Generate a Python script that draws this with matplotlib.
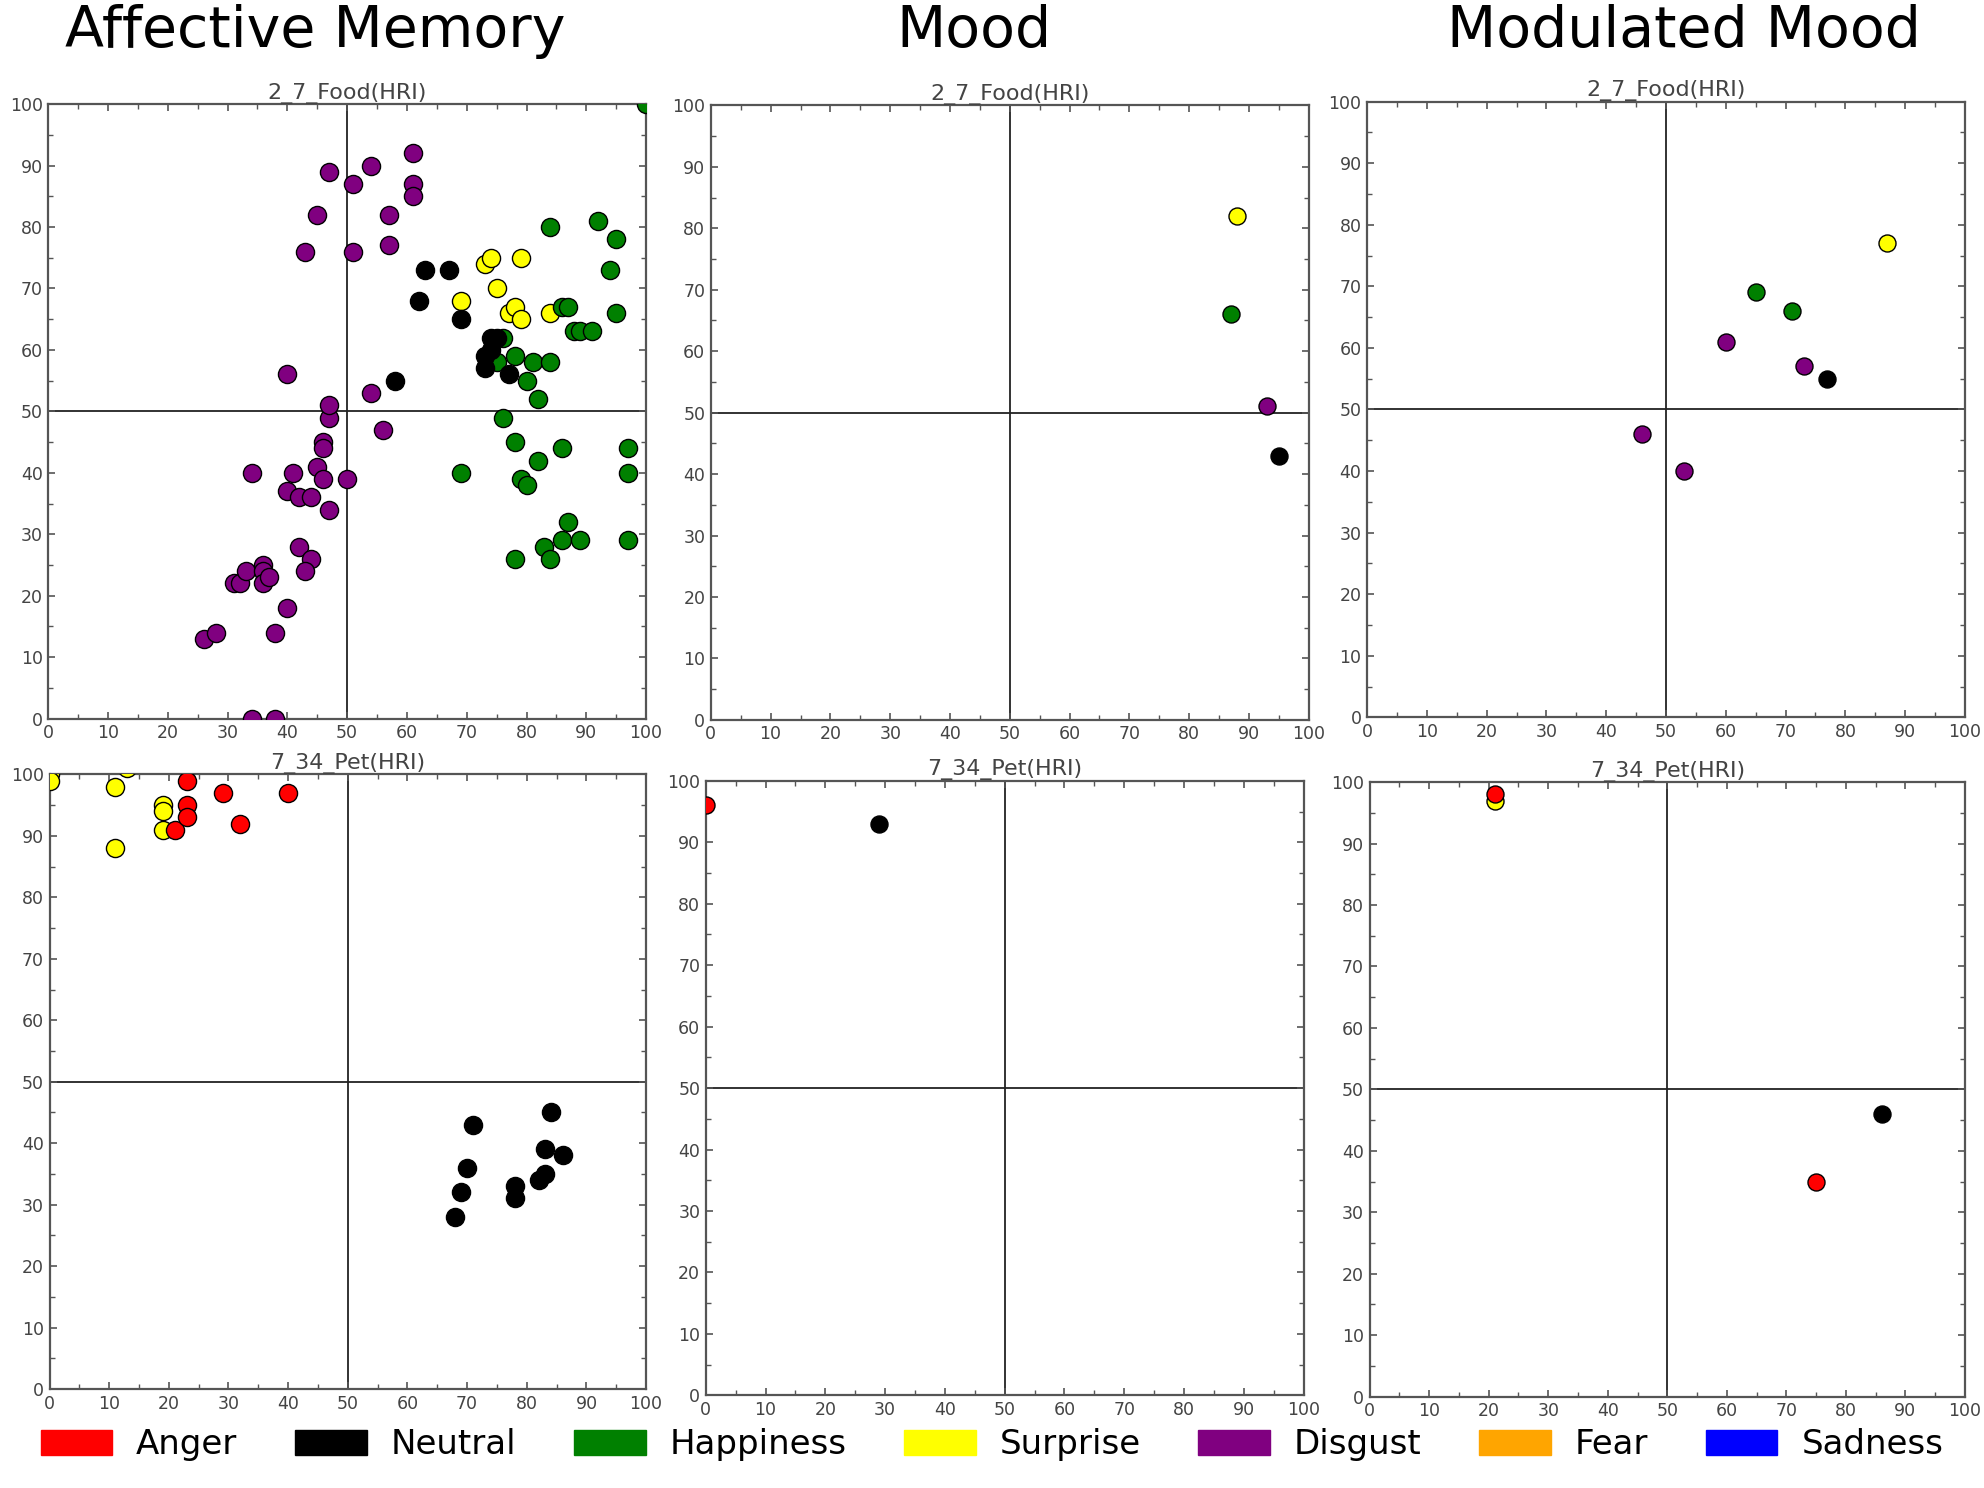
import matplotlib
matplotlib.use('Agg')
import matplotlib.pyplot as plt
from matplotlib.patches import Patch
from matplotlib.ticker import MultipleLocator

EMOTIONS = ['Anger', 'Neutral', 'Happiness', 'Surprise', 'Disgust', 'Fear', 'Sadness']
COLORS = ['red', 'black', 'green', 'yellow', 'purple', 'orange', 'blue']
COLUMN_TITLES = ['Affective Memory', 'Mood', 'Modulated Mood']
ROW_TITLES = ['2_7_Food(HRI)', '7_34_Pet(HRI)']

# Affective memory, 2_7_Food
mem_food = {
    'Disgust': ([26, 28, 34, 38, 38, 40, 31, 32, 33, 36, 36, 36, 37, 42, 44, 43,
                 34, 40, 41, 42, 44, 47, 45, 46, 50, 46, 46, 47, 47, 40, 54, 56,
                 43, 45, 47, 51, 51, 54, 57, 57, 61, 61, 61],
                [13, 14, 0, 0, 14, 18, 22, 22, 24, 25, 24, 22, 23, 28, 26, 24,
                 40, 37, 40, 36, 36, 34, 41, 39, 39, 45, 44, 49, 51, 56, 53, 47,
                 76, 82, 89, 87, 76, 90, 82, 77, 92, 87, 85]),
    'Surprise': ([73, 74, 79, 69, 75, 77, 78, 79, 84],
                 [74, 75, 75, 68, 70, 66, 67, 65, 66]),
    'Happiness': ([100, 84, 92, 95, 94, 95, 86, 87, 88, 89, 91, 76, 75, 78, 81,
                   84, 80, 82, 76, 78, 86, 82, 69, 79, 80, 97, 97, 87, 83, 86,
                   89, 97, 78, 84],
                  [100, 80, 81, 78, 73, 66, 67, 67, 63, 63, 63, 62, 58, 59, 58,
                   58, 55, 52, 49, 45, 44, 42, 40, 39, 38, 44, 40, 32, 28, 29,
                   29, 29, 26, 26]),
    'Neutral': ([63, 67, 62, 69, 58, 74, 75, 73, 74, 73, 77],
                [73, 73, 68, 65, 55, 62, 62, 59, 60, 57, 56]),
}

# Mood, 2_7_Food
mood_food = {
    'Surprise': ([88], [82]),
    'Happiness': ([87], [66]),
    'Disgust': ([93], [51]),
    'Neutral': ([95], [43]),
}

# Modulated mood, 2_7_Food
modmood_food = {
    'Surprise': ([87], [77]),
    'Happiness': ([65, 71], [69, 66]),
    'Disgust': ([60, 73, 46, 53], [61, 57, 46, 40]),
    'Neutral': ([77], [55]),
}

# Affective memory, 7_34_Pet
mem_pet = {
    'Surprise': ([0, 0, 13, 11, 11, 19, 19, 19],
                 [100, 99, 101, 98, 88, 95, 94, 91]),
    'Anger': ([21, 23, 23, 23, 29, 32, 40],
              [91, 99, 95, 93, 97, 92, 97]),
    'Neutral': ([68, 69, 70, 71, 78, 78, 82, 83, 83, 84, 86],
                [28, 32, 36, 43, 33, 31, 34, 35, 39, 45, 38]),
}

# Mood, 7_34_Pet
mood_pet = {
    'Anger': ([0], [96]),
    'Neutral': ([29], [93]),
}

# Modulated mood, 7_34_Pet
modmood_pet = {
    'Surprise': ([21], [97]),
    'Anger': ([21, 75], [98, 35]),
    'Neutral': ([86], [46]),
}

panels = [mem_food, mood_food, modmood_food, mem_pet, mood_pet, modmood_pet]
marker_sizes = [170, 150, 150, 170, 150, 150]

# axes boxes in pixels of a 1563 x 1172 layout grid: left, right, top, bottom
boxes = [(38, 509, 82, 566), (560, 1031, 83, 567), (1077, 1548, 80, 565),
         (39, 509, 610, 1094), (556, 1027, 615, 1099), (1079, 1548, 616, 1100)]
GW, GH = 1563.0, 1172.0

fig = plt.figure(figsize=(19.84, 14.88), dpi=100)
grey = '#555555'

for i, (data, box) in enumerate(zip(panels, boxes)):
    l, r, t, b = box
    ax = fig.add_axes([l / GW, 1 - b / GH, (r - l) / GW, (b - t) / GH])
    ax.axhline(50, color='#222222', lw=1.3, zorder=1)
    ax.axvline(50, color='#222222', lw=1.3, zorder=1)
    # plot in reverse legend order so Anger ends on top
    for emo, col in reversed(list(zip(EMOTIONS, COLORS))):
        if emo in data:
            xs, ys = data[emo]
            ax.scatter(xs, ys, s=marker_sizes[i], c=col, edgecolors='black',
                       linewidths=1.0, zorder=3)
    ax.set_xlim(0, 100)
    ax.set_ylim(0, 100)
    ax.xaxis.set_major_locator(MultipleLocator(10))
    ax.yaxis.set_major_locator(MultipleLocator(10))
    ax.xaxis.set_minor_locator(MultipleLocator(5))
    ax.yaxis.set_minor_locator(MultipleLocator(5))
    ax.tick_params(which='both', direction='in', top=True, right=True,
                   color=grey, labelcolor='#444444')
    ax.tick_params(which='major', length=5, width=1.2, labelsize=12.5, pad=4)
    ax.tick_params(which='minor', length=3.5, width=1.0)
    for sp in ax.spines.values():
        sp.set_color(grey)
        sp.set_linewidth(1.6)
    ax.set_title(ROW_TITLES[i // 3], fontsize=16, color='#444444', pad=4)

title_x = [248, 767, 1327]
for tx, name in zip(title_x, COLUMN_TITLES):
    fig.text(tx / GW, 1 - 25 / GH, name, fontsize=41, ha='center', va='center')

handles = [Patch(facecolor=c, edgecolor=c) for c in COLORS]
fig.legend(handles, EMOTIONS, loc='center', bbox_to_anchor=(0.5, 1 - 1138 / GH),
           ncol=7, frameon=False, fontsize=24.5, handlelength=2.1,
           handleheight=0.75, handletextpad=0.7, columnspacing=1.7)

fig.savefig('out.png', dpi=100)
